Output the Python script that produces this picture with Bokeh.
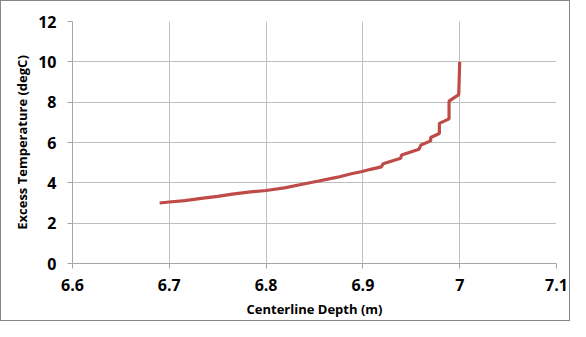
from bokeh.plotting import figure
from bokeh.models import Range1d, FixedTicker, CustomJSTickFormatter
from bokeh.embed import file_html
from bokeh.resources import INLINE

depth = [6.690, 6.700, 6.716, 6.735, 6.750, 6.765, 6.784, 6.800, 6.819, 6.836,
         6.853, 6.874, 6.888, 6.898, 6.908, 6.919, 6.921, 6.939, 6.940, 6.958,
         6.960, 6.970, 6.970, 6.979, 6.979, 6.989, 6.989, 6.999, 7.000]
temp = [3.00, 3.05, 3.12, 3.24, 3.33, 3.44, 3.55, 3.62, 3.75, 3.92,
        4.08, 4.28, 4.45, 4.55, 4.67, 4.79, 4.95, 5.22, 5.38, 5.67,
        5.88, 6.08, 6.25, 6.45, 6.95, 7.17, 8.05, 8.37, 10.00]
x_ticks = [6.6, 6.7, 6.8, 6.9, 7.0, 7.1]
y_ticks = [0, 2, 4, 6, 8, 10, 12]

p = figure(width=570, height=321, output_backend="svg", toolbar_location=None,
           x_range=Range1d(6.6, 7.1), y_range=Range1d(0, 12),
           min_border_left=71, min_border_right=15, min_border_top=20, min_border_bottom=59)
p.styles = {"border": "1px solid #868686", "box-sizing": "border-box"}
p.outline_line_color = None
p.background_fill_color = "white"
p.border_fill_color = "white"

p.line(depth, temp, line_color="#BE4B48", line_width=3.2)

font = "Open Sans"
for ax in (p.xaxis[0], p.yaxis[0]):
    ax.axis_line_color = "#A6A6A6"
    ax.major_tick_line_color = "#A6A6A6"
    ax.major_tick_out = 5
    ax.major_tick_in = 0
    ax.minor_tick_line_color = None
    ax.major_label_text_font = font
    ax.major_label_text_font_style = "bold"
    ax.major_label_text_font_size = "16px"
    ax.major_label_text_color = "#000000"
    ax.axis_label_text_font = font
    ax.axis_label_text_font_style = "bold"
    ax.axis_label_text_font_size = "13px"
    ax.axis_label_text_color = "#000000"

p.xaxis.ticker = FixedTicker(ticks=x_ticks)
p.yaxis.ticker = FixedTicker(ticks=y_ticks)
p.xaxis.formatter = CustomJSTickFormatter(code="return tick.toFixed(1).replace(/\\.0$/, '');")
p.xaxis.axis_label = "Centerline Depth (m)"
p.yaxis.axis_label = "Excess Temperature (degC)"
p.xaxis.major_label_standoff = 10
p.yaxis.major_label_standoff = 11
p.xaxis.axis_label_standoff = 6
p.yaxis.axis_label_standoff = 4

p.xgrid.grid_line_color = "#BFBFBF"
p.ygrid.grid_line_color = "#BFBFBF"
p.xgrid.ticker = FixedTicker(ticks=x_ticks)
p.ygrid.ticker = FixedTicker(ticks=y_ticks)

open("out.html", "w").write(file_html(p, INLINE))
